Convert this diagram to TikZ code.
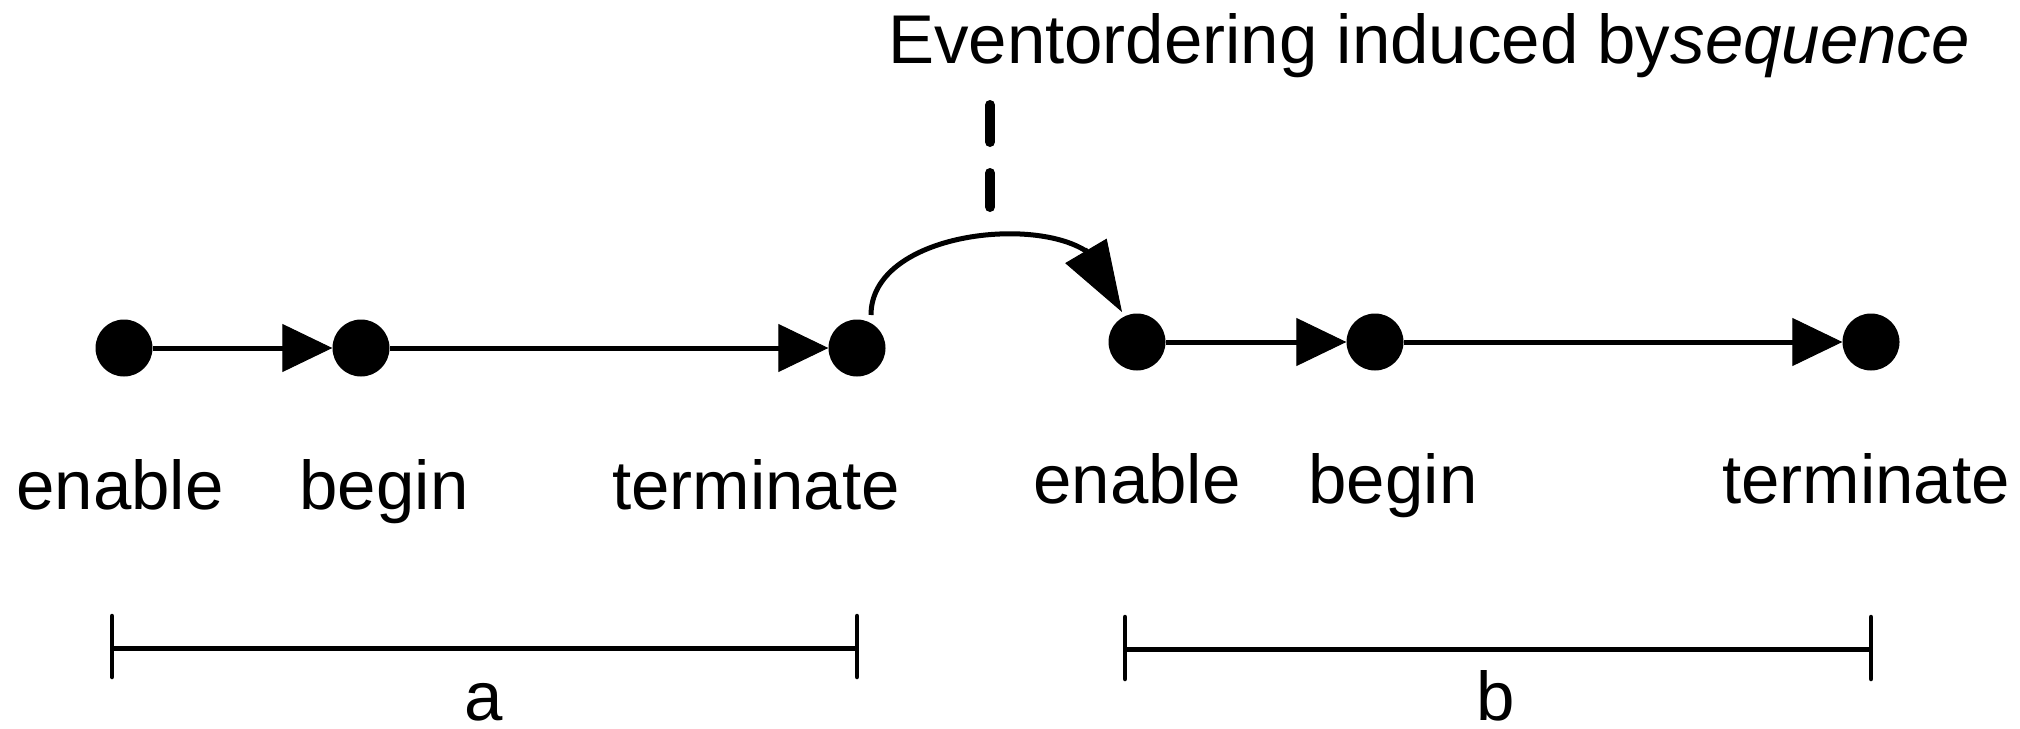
\documentclass[tikz,border=0pt]{standalone}
\usepackage{fontspec}
\setmainfont{Liberation Sans}
\usetikzlibrary{arrows.meta,calc}
\begin{document}
\begin{tikzpicture}[x=1pt,y=-1pt,
  dot/.style={circle,fill=black,inner sep=0pt,minimum size=57pt},
  lbl/.style={anchor=base,inner sep=0pt,font=\fontsize{69}{80}\selectfont},
  flow/.style={line width=5pt,-{Triangle[length=50pt,width=48pt,line width=1pt]}},
  ordercurve/.style={line width=5pt},
  orderhead/.style={line width=5pt,-{Triangle[length=71pt,width=48pt,line width=1pt]}},
  bar/.style={line width=5pt},
  tick/.style={line width=4.5pt,line cap=round},
  guide/.style={line width=10pt,dash pattern=on 37pt off 31pt,line cap=round}]
\useasboundingbox (0,0) rectangle (2020,728);
% dots
\node[dot] (d1) at (124,348) {};
\node[dot] (d2) at (361,348) {};
\node[dot] (d3) at (857,348) {};
\node[dot] (d4) at (1137,342) {};
\node[dot] (d5) at (1375,342) {};
\node[dot] (d6) at (1871,342) {};
% arrows
\draw[flow] (d1) -- (d2);
\draw[flow] (d2) -- (d3);
\draw[flow] (d4) -- (d5);
\draw[flow] (d5) -- (d6);
% curved ordering arrow
\coordinate (cs) at ($(d3)+(14,-33)$);
\coordinate (ce) at ($(d4)+(-15,-30)$);
\coordinate (cb) at ($(ce)+(-36,-61)$);
\draw[ordercurve] (cs) .. controls +(0,-80) and +(-56,-36) .. (cb);
\draw[orderhead] ($(cb)+(-1.2,-2)$) -- (ce);
% title and dashed pointer
\node[lbl] (title) at (1429,63) {Eventordering induced by\textit{sequence}};
\coordinate (g1) at (990,105);
\coordinate (g2) at (990,207);
\draw[guide] (g1) -- (g2);
% labels
\node[lbl] (l1) at (120,509) {enable};
\node[lbl] (l2) at (384,509) {begin};
\node[lbl] (l3) at (756,509) {terminate};
\node[lbl] (l4) at (1137,503) {enable};
\node[lbl] (l5) at (1393,503) {begin};
\node[lbl] (l6) at (1866,503) {terminate};
% bars
\coordinate (a1) at (112,648);
\coordinate (a2) at (857,648);
\coordinate (b1) at (1125,649);
\coordinate (b2) at (1871,649);
\draw[bar] (a1) -- (a2);
\draw[bar] (b1) -- (b2);
\draw[tick] ($(a1)+(0,-32)$) -- ($(a1)+(0,29)$);
\draw[tick] ($(a2)+(0,-32)$) -- ($(a2)+(0,29)$);
\draw[tick] ($(b1)+(0,-32)$) -- ($(b1)+(0,30)$);
\draw[tick] ($(b2)+(0,-32)$) -- ($(b2)+(0,30)$);
\node[lbl] (la) at (484,720) {a};
\node[lbl] (lb) at (1496,720) {b};
\end{tikzpicture}
\end{document}
